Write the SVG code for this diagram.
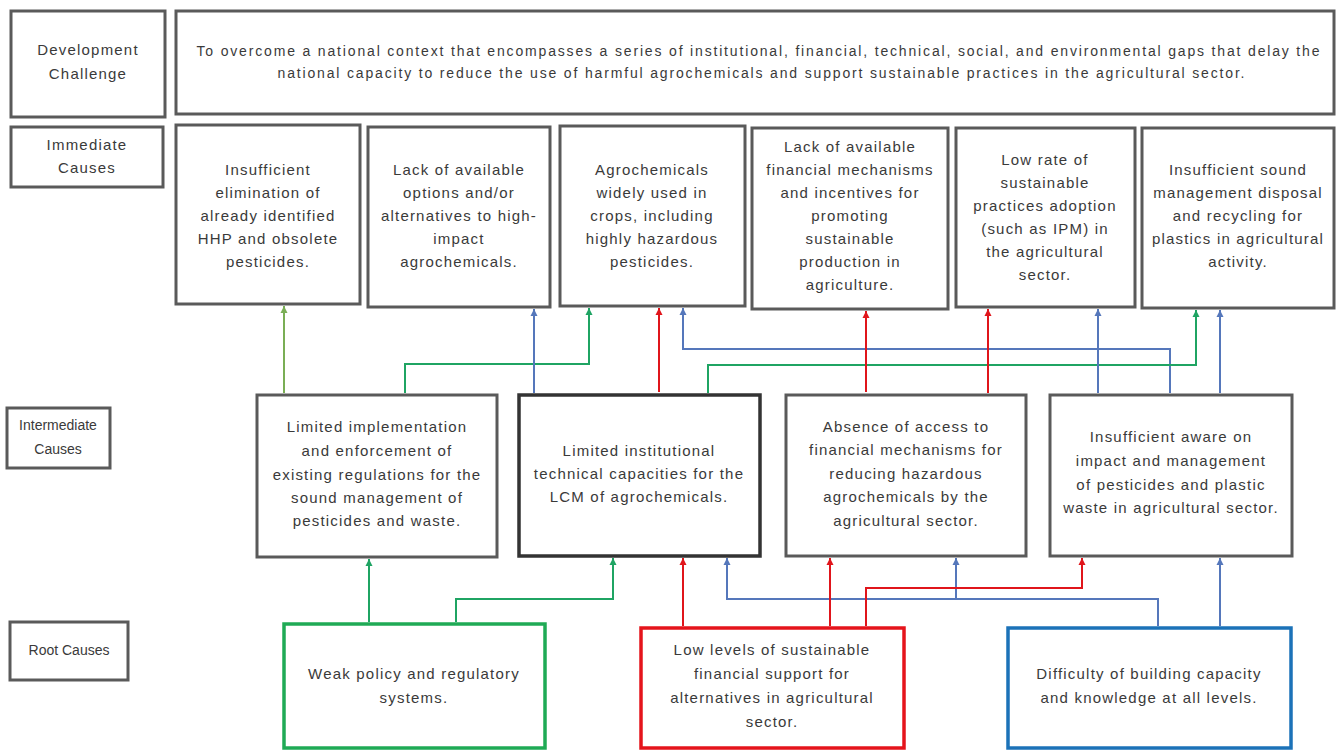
<svg xmlns="http://www.w3.org/2000/svg" width="1340" height="750" viewBox="0 0 1340 750">
<style>
.bx{fill:#fff;stroke:#5a5a5a;stroke-width:3}
.bxd{fill:#fff;stroke:#333;stroke-width:3.5}
.t{font-family:"Liberation Sans",Arial,sans-serif;font-size:15px;letter-spacing:1.2px;fill:#3a3a3a;text-anchor:middle}
.l{font-family:"Liberation Sans",Arial,sans-serif;font-size:14px;fill:#3a3a3a;text-anchor:middle}
.c{fill:none;stroke-width:2}
.og{stroke:#7aae55}
.g{stroke:#1fa463}
.b{stroke:#5577bb}
.r{stroke:#e0151b}
</style>
<defs>
<marker id="aog" markerUnits="userSpaceOnUse" markerWidth="8" markerHeight="8" refX="7" refY="4" orient="auto"><path d="M0,0.5 L7,4 L0,7.5 z" fill="#7aae55"/></marker>
<marker id="ag" markerUnits="userSpaceOnUse" markerWidth="8" markerHeight="8" refX="7" refY="4" orient="auto"><path d="M0,0.5 L7,4 L0,7.5 z" fill="#1fa463"/></marker>
<marker id="ab" markerUnits="userSpaceOnUse" markerWidth="8" markerHeight="8" refX="7" refY="4" orient="auto"><path d="M0,0.5 L7,4 L0,7.5 z" fill="#5577bb"/></marker>
<marker id="ar" markerUnits="userSpaceOnUse" markerWidth="8" markerHeight="8" refX="7" refY="4" orient="auto"><path d="M0,0.5 L7,4 L0,7.5 z" fill="#e0151b"/></marker>
</defs>
<rect width="1340" height="750" fill="#fff"/>

<g id="lbl-dev"><rect class="bx" x="11" y="11" width="154" height="106"/><text class="t" x="88" y="55">Development</text><text class="t" x="88" y="79">Challenge</text></g>
<g id="lbl-imm"><rect class="bx" x="11" y="127" width="152" height="60"/><text class="t" x="87" y="150">Immediate</text><text class="t" x="87" y="173">Causes</text></g>
<g id="lbl-int"><rect class="bx" x="7" y="408" width="103" height="60"/><text class="l" x="58" y="430">Intermediate</text><text class="l" x="58" y="454">Causes</text></g>
<g id="lbl-root"><rect class="bx" x="10" y="622" width="118" height="58"/><text class="l" x="69" y="655">Root Causes</text></g>

<g id="challenge"><rect class="bx" x="176" y="11" width="1158" height="103"/>
<text class="l" x="758" y="56" textLength="1123" lengthAdjust="spacing">To overcome a national context that encompasses a series of institutional, financial, technical, social, and environmental gaps that delay the</text>
<text class="l" x="761" y="78" textLength="967" lengthAdjust="spacing">national capacity to reduce the use of harmful agrochemicals and support sustainable practices in the agricultural sector.</text></g>

<g id="imm1"><rect class="bx" x="176" y="125" width="184" height="179"/><text class="t"><tspan x="268" y="175">Insufficient</tspan><tspan x="268" y="198">elimination of</tspan><tspan x="268" y="221">already identified</tspan><tspan x="268" y="244">HHP and obsolete</tspan><tspan x="268" y="267">pesticides.</tspan></text></g>
<g id="imm2"><rect class="bx" x="368" y="127" width="182" height="180"/><text class="t"><tspan x="459" y="175">Lack of available</tspan><tspan x="459" y="198">options and/or</tspan><tspan x="459" y="221">alternatives to high-</tspan><tspan x="459" y="244">impact</tspan><tspan x="459" y="267">agrochemicals.</tspan></text></g>
<g id="imm3"><rect class="bx" x="560" y="126" width="185" height="180"/><text class="t"><tspan x="652" y="175">Agrochemicals</tspan><tspan x="652" y="198">widely used in</tspan><tspan x="652" y="221">crops, including</tspan><tspan x="652" y="244">highly hazardous</tspan><tspan x="652" y="267">pesticides.</tspan></text></g>
<g id="imm4"><rect class="bx" x="752" y="128" width="196" height="181"/><text class="t"><tspan x="850" y="152">Lack of available</tspan><tspan x="850" y="175">financial mechanisms</tspan><tspan x="850" y="198">and incentives for</tspan><tspan x="850" y="221">promoting</tspan><tspan x="850" y="244">sustainable</tspan><tspan x="850" y="267">production in</tspan><tspan x="850" y="290">agriculture.</tspan></text></g>
<g id="imm5"><rect class="bx" x="956" y="128" width="179" height="179"/><text class="t"><tspan x="1045" y="165">Low rate of</tspan><tspan x="1045" y="188">sustainable</tspan><tspan x="1045" y="211">practices adoption</tspan><tspan x="1045" y="234">(such as IPM) in</tspan><tspan x="1045" y="257">the agricultural</tspan><tspan x="1045" y="280">sector.</tspan></text></g>
<g id="imm6"><rect class="bx" x="1142" y="128" width="192" height="180"/><text class="t"><tspan x="1238" y="175">Insufficient sound</tspan><tspan x="1238" y="198">management disposal</tspan><tspan x="1238" y="221">and recycling for</tspan><tspan x="1238" y="244">plastics in agricultural</tspan><tspan x="1238" y="267">activity.</tspan></text></g>

<g id="intA"><rect class="bx" x="257" y="395" width="240" height="162"/><text class="t"><tspan x="377" y="432">Limited implementation</tspan><tspan x="377" y="456">and enforcement of</tspan><tspan x="377" y="480">existing regulations for the</tspan><tspan x="377" y="503">sound management of</tspan><tspan x="377" y="526">pesticides and waste.</tspan></text></g>
<g id="intB"><rect class="bxd" x="519" y="395" width="241" height="161"/><text class="t"><tspan x="639" y="456">Limited institutional</tspan><tspan x="639" y="479">technical capacities for the</tspan><tspan x="639" y="502">LCM of agrochemicals.</tspan></text></g>
<g id="intC"><rect class="bx" x="786" y="395" width="240" height="161"/><text class="t"><tspan x="906" y="432">Absence of access to</tspan><tspan x="906" y="455">financial mechanisms for</tspan><tspan x="906" y="479">reducing hazardous</tspan><tspan x="906" y="502">agrochemicals by the</tspan><tspan x="906" y="526">agricultural sector.</tspan></text></g>
<g id="intD"><rect class="bx" x="1050" y="395" width="242" height="161"/><text class="t"><tspan x="1171" y="442">Insufficient aware on</tspan><tspan x="1171" y="466">impact and management</tspan><tspan x="1171" y="490">of pesticides and plastic</tspan><tspan x="1171" y="513">waste in agricultural sector.</tspan></text></g>

<g id="rootG"><rect x="284" y="624" width="261" height="124" fill="#fff" stroke="#1faa55" stroke-width="3.5"/><text class="t"><tspan x="414" y="679">Weak policy and regulatory</tspan><tspan x="414" y="703">systems.</tspan></text></g>
<g id="rootR"><rect x="641" y="628" width="263" height="120" fill="#fff" stroke="#e5141b" stroke-width="3.5"/><text class="t"><tspan x="772" y="655">Low levels of sustainable</tspan><tspan x="772" y="679">financial support for</tspan><tspan x="772" y="703">alternatives in agricultural</tspan><tspan x="772" y="727">sector.</tspan></text></g>
<g id="rootB"><rect x="1008" y="628" width="283" height="120" fill="#fff" stroke="#1b72b8" stroke-width="3.5"/><text class="t"><tspan x="1149" y="679">Difficulty of building capacity</tspan><tspan x="1149" y="703">and knowledge at all levels.</tspan></text></g>

<g id="connectors">
<path class="c og" d="M284,393 V306" marker-end="url(#aog)"/>
<path class="c g" d="M405,393 V364 H589 V308" marker-end="url(#ag)"/>
<path class="c b" d="M534,393 V309" marker-end="url(#ab)"/>
<path class="c r" d="M659,392 V308" marker-end="url(#ar)"/>
<path class="c b" d="M1170,393 V349 H683 V308" marker-end="url(#ab)"/>
<path class="c g" d="M708,393 V365 H1196 V310" marker-end="url(#ag)"/>
<path class="c r" d="M866,392 V311" marker-end="url(#ar)"/>
<path class="c r" d="M988,393 V309" marker-end="url(#ar)"/>
<path class="c b" d="M1098,393 V309" marker-end="url(#ab)"/>
<path class="c b" d="M1220,393 V310" marker-end="url(#ab)"/>

<path class="c g" d="M369,622 V559" marker-end="url(#ag)"/>
<path class="c g" d="M456,622 V599 H613 V558" marker-end="url(#ag)"/>
<path class="c r" d="M683,626 V558" marker-end="url(#ar)"/>
<path class="c b" d="M1158,626 V599 H727 V558" marker-end="url(#ab)"/>
<path class="c b" d="M956,599 V558" marker-end="url(#ab)"/>
<path class="c r" d="M830,626 V558" marker-end="url(#ar)"/>
<path class="c r" d="M866,626 V588 H1082 V558" marker-end="url(#ar)"/>
<path class="c b" d="M1220,626 V558" marker-end="url(#ab)"/>
</g>
</svg>
